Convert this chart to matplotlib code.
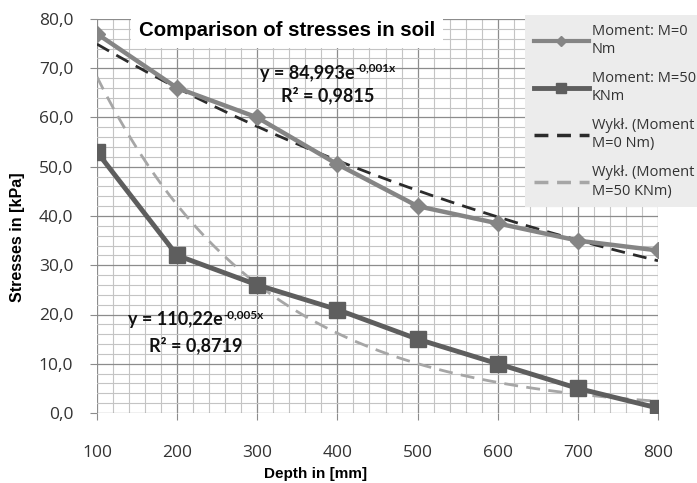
import numpy as np
import matplotlib
matplotlib.use("Agg")
import matplotlib.pyplot as plt
from matplotlib.lines import Line2D
from matplotlib.ticker import MultipleLocator

# data
depth = [100, 200, 300, 400, 500, 600, 700, 800]
stress_m0 = [77.0, 66.0, 60.0, 50.5, 42.0, 38.5, 35.0, 33.0]
stress_m50 = [53.0, 32.0, 26.0, 21.0, 15.0, 10.0, 5.0, 1.0]
xticks = [100, 200, 300, 400, 500, 600, 700, 800]
yticks = [0, 10, 20, 30, 40, 50, 60, 70, 80]
labels = ['Moment: M=0\nNm', 'Moment: M=50\nKNm',
          'Wykł. (Moment\nM=0 Nm)', 'Wykł. (Moment\nM=50 KNm)']

c_m0 = '#858585'
c_m50 = '#5e5e5e'
c_t0 = '#2b2b2b'
c_t50 = '#a6a6a6'

# exponential trend lines (same least-squares fit on ln(y) as Excel)
x = np.array(depth, dtype=float)
b0, lna0 = np.polyfit(x, np.log(stress_m0), 1)
b50, lna50 = np.polyfit(x, np.log(stress_m50), 1)
xs = np.linspace(100, 800, 200)
trend0 = np.exp(lna0) * np.exp(b0 * xs)
trend50 = np.exp(lna50) * np.exp(b50 * xs)

fig = plt.figure(figsize=(6.97, 4.83), dpi=100)
ax = fig.add_axes([97 / 697, 1 - 413 / 483, 561 / 697, 394 / 483])

ax.plot(xs, trend0, color=c_t0, lw=2, ls=(0, (5, 3)), zorder=3)
ax.plot(xs, trend50, color=c_t50, lw=2, ls=(0, (5, 3)), zorder=3)
ax.plot(depth, stress_m0, color=c_m0, lw=3.2, marker='D', ms=8, zorder=4)
ax.plot(depth, stress_m50, color=c_m50, lw=3.5, marker='s', ms=12, zorder=4)

ax.set_xlim(100, 800)
ax.set_ylim(0, 80)
ax.set_xticks(xticks)
ax.set_yticks(yticks)
ax.set_yticklabels([('%.1f' % v).replace('.', ',') for v in yticks])
ax.xaxis.set_minor_locator(MultipleLocator(20))
ax.yaxis.set_minor_locator(MultipleLocator(2))
ax.grid(which='major', color='#8c8c8c', lw=0.9)
ax.grid(which='minor', color='#c4c4c4', lw=0.8)
ax.set_axisbelow(True)
for s in ax.spines.values():
    s.set_visible(False)
ax.tick_params(which='major', length=5, color='#8c8c8c', labelsize=12.5,
               labelcolor='#333333')
ax.tick_params(axis='x', pad=18)
ax.tick_params(axis='y', pad=12)
ax.tick_params(which='minor', length=0)
for t in ax.get_xticklabels() + ax.get_yticklabels():
    t.set_family('Open Sans')

ax.set_xlabel('Depth in [mm]', fontsize=11, fontweight='bold',
              family='Liberation Sans')
ax.set_ylabel('Stresses in [kPa]', fontsize=11.5, fontweight='bold',
              family='Liberation Sans')
ax.xaxis.set_label_coords(0.389, -0.137)
ax.yaxis.set_label_coords(-0.128, 0.447)

fig.text(287 / 697, 1 - 30 / 483, 'Comparison of stresses in soil',
         fontsize=14.7, fontweight='bold', family='Liberation Sans',
         ha='center', va='center',
         bbox=dict(boxstyle='square,pad=0.4', fc='white', ec='none'))

# trend line equations
eq_kw = dict(fontsize=13, fontweight='bold', family='Lato',
             color='#111111', va='center', zorder=6)
sup_kw = dict(fontsize=8.5, fontweight='bold', family='Lato', color='#111111',
              ha='left', va='top', zorder=6, textcoords='offset points')
t1 = ax.text(303.4, 69.0, 'y = 84,993e', ha='left', **eq_kw)
ax.annotate('-0,001x', xy=(1, 1), xycoords=t1, xytext=(0.5, 1.5), **sup_kw)
ax.text(388, 64.4, 'R² = 0,9815', ha='center', **eq_kw)
t2 = ax.text(138.7, 18.9, 'y = 110,22e', ha='left', **eq_kw)
ax.annotate('-0,005x', xy=(1, 1), xycoords=t2, xytext=(0.5, 1.5), **sup_kw)
ax.text(223.5, 13.8, 'R² = 0,8719', ha='center', **eq_kw)

handles = [
    Line2D([], [], color=c_m0, lw=3, marker='D', ms=5),
    Line2D([], [], color=c_m50, lw=3.5, marker='s', ms=7),
    Line2D([], [], color=c_t0, lw=2.5, ls=(0, (4, 2.5))),
    Line2D([], [], color=c_t50, lw=2.5, ls=(0, (4, 2.5))),
]
leg = fig.legend(handles, labels, loc='upper left',
                 bbox_to_anchor=(525 / 697, 1 - 15 / 483),
                 frameon=True, fancybox=False, facecolor='#ececec',
                 edgecolor='none', framealpha=1,
                 prop={'family': 'Open Sans', 'size': 10.5},
                 handlelength=3.8, handletextpad=0.2, labelspacing=0.95,
                 borderpad=0.6, borderaxespad=0)
for t in leg.get_texts():
    t.set_linespacing(1.3)
    t.set_color('#333333')

fig.savefig('out.png', dpi=100)
